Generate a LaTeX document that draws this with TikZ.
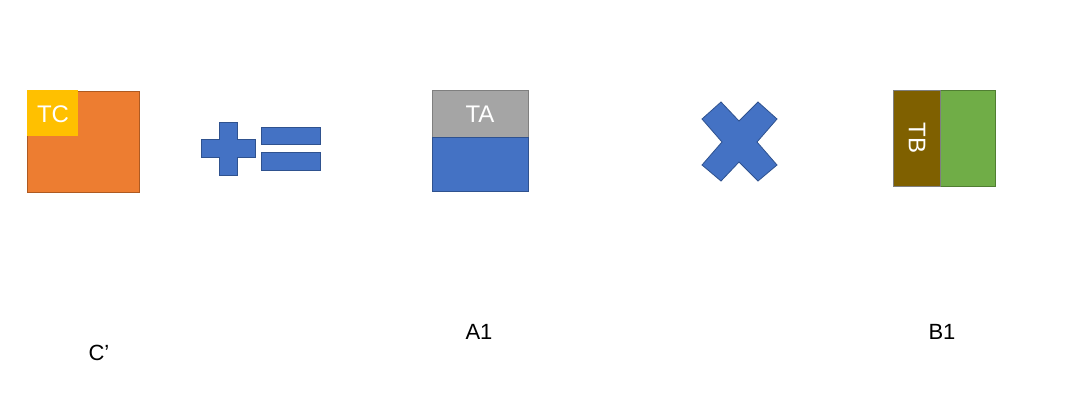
\documentclass[tikz,border=0pt]{standalone}
\usepackage{fontspec}
\setmainfont{Liberation Sans}
\definecolor{orng}{HTML}{ED7D31}
\definecolor{orngd}{HTML}{AE5A21}
\definecolor{yel}{HTML}{FFC000}
\definecolor{blu}{HTML}{4472C4}
\definecolor{blud}{HTML}{2F528F}
\definecolor{gry}{HTML}{A5A5A5}
\definecolor{gryd}{HTML}{7F7F7F}
\definecolor{brn}{HTML}{7F6000}
\definecolor{grn}{HTML}{70AD47}
\definecolor{grnd}{HTML}{507E32}
\tikzset{
  box/.style={draw=#1, line width=0.8pt},
  bluesym/.style={fill=blu, draw=blud, line width=0.8pt, line join=miter},
  inlabel/.style={text=white, font=\fontsize{24}{24}\selectfont, inner sep=0pt},
  caption/.style={text=black, font=\fontsize{22}{22}\selectfont, inner sep=0pt}
}
\begin{document}
\begin{tikzpicture}[x=1pt,y=-1pt]
\useasboundingbox (0,0) rectangle (1091,402);
\fill[white] (0,0) rectangle (1091,402);
% C' block
\filldraw[fill=orng, box=orngd] (27,91) rectangle (139,192);
\fill[yel] (27,90) rectangle (78,136);
\node[inlabel] (tc) at (53,114) {TC};
% plus
\path[bluesym] (219,122) -- (237,122) -- (237,139) -- (255,139) -- (255,157) -- (237,157) -- (237,175) -- (219,175) -- (219,157) -- (201,157) -- (201,139) -- (219,139) -- cycle;
% equals
\path[bluesym] (261,127) rectangle (320,144);
\path[bluesym] (261,152) rectangle (320,170);
% A1 block
\filldraw[fill=gry, box=gryd] (432,90) rectangle (528,137);
\filldraw[fill=blu, box=blud] (432,137) rectangle (528,191);
\node[inlabel] (ta) at (480,114) {TA};
% multiply
\path[bluesym] (702,119) -- (721,102) -- (739,121) -- (758,102) -- (777,119) -- (757,142) -- (777,165) -- (758,181) -- (739,162) -- (721,181) -- (702,165) -- (722,142) -- cycle;
% B1 block
\filldraw[fill=grn, box=grnd] (940,90) rectangle (995,186);
\filldraw[fill=brn, box=gryd] (893,90) rectangle (940,186);
\node[inlabel, rotate=-90] (tb) at (917,138) {TB};
% captions
\node[caption] (cc) at (99,353) {C’};
\node[caption] (ca) at (479,332) {A1};
\node[caption] (cb) at (942,332) {B1};
\end{tikzpicture}
\end{document}
